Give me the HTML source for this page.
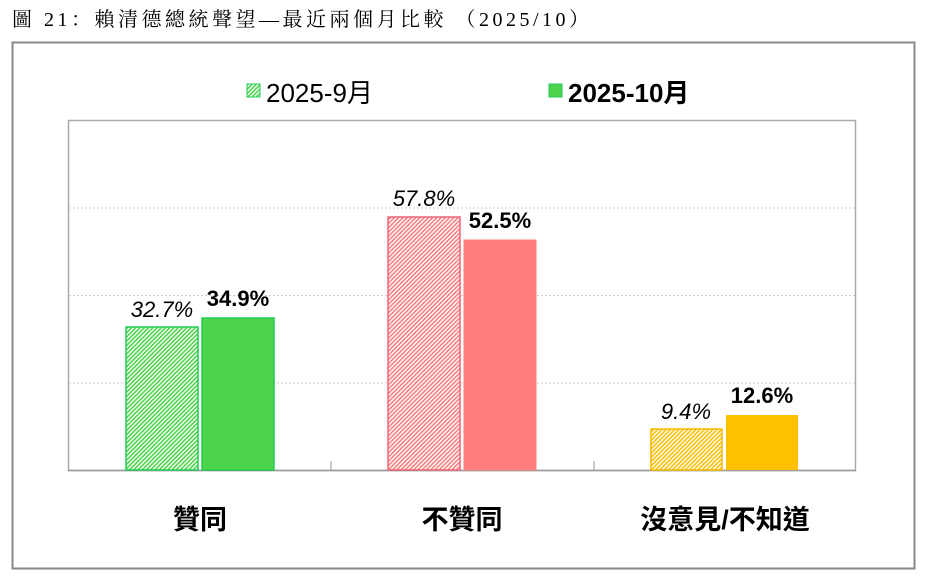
<!DOCTYPE html>
<html><head><meta charset="utf-8"><style>
body{margin:0;background:#fff;width:928px;height:580px;overflow:hidden}
svg{display:block}
</style></head><body>
<svg width="928" height="580" xmlns="http://www.w3.org/2000/svg">
<defs>
<pattern id="pg" width="3" height="3" patternUnits="userSpaceOnUse" patternTransform="rotate(45)"><rect width="3" height="3" fill="#fff"/><rect width="1.6" height="3" fill="#4cd44c"/></pattern>
<pattern id="pr" width="3" height="3" patternUnits="userSpaceOnUse" patternTransform="rotate(45)"><rect width="3" height="3" fill="#fff"/><rect width="1.6" height="3" fill="#ff7f7f"/></pattern>
<pattern id="py" width="3" height="3" patternUnits="userSpaceOnUse" patternTransform="rotate(45)"><rect width="3" height="3" fill="#fff"/><rect width="1.6" height="3" fill="#ffc000"/></pattern>
</defs>
<text x="12" y="26" font-family="Liberation Serif, Noto Serif CJK SC, serif" font-size="20" letter-spacing="3.5" fill="#000">圖 21：賴清德總統聲望—最近兩個月比較 （2025/10）</text>
<rect x="12.5" y="42.5" width="902" height="526" fill="none" stroke="#888" stroke-width="2"/>
<rect x="68.5" y="120.5" width="787" height="350" fill="none" stroke="#aaa" stroke-width="1.5"/>
<g stroke="#ccc" stroke-dasharray="2,2"><line x1="69" y1="208" x2="855" y2="208"/><line x1="69" y1="295.5" x2="855" y2="295.5"/><line x1="69" y1="383" x2="855" y2="383"/></g>
<line x1="68" y1="470.5" x2="856" y2="470.5" stroke="#999" stroke-width="1.5"/>
<g stroke="#999"><line x1="331" y1="461" x2="331" y2="470"/><line x1="594" y1="461" x2="594" y2="470"/></g>
<rect x="126" y="327" width="72" height="143" fill="url(#pg)" stroke="#22cc55" stroke-width="1.5"/>
<rect x="202" y="318" width="72" height="152" fill="#4cd44c" stroke="#22cc55" stroke-width="1.5"/>
<rect x="388" y="217" width="72" height="253" fill="url(#pr)" stroke="#ee6677" stroke-width="1.5"/>
<rect x="464" y="240" width="72" height="230" fill="#ff7f7f" stroke="#ff7f7f" stroke-width="1"/>
<rect x="651" y="429" width="71" height="41" fill="url(#py)" stroke="#f5b800" stroke-width="1.5"/>
<rect x="726" y="415" width="72" height="55" fill="#ffc000"/>
<g font-family="Liberation Sans, sans-serif" font-size="22" text-anchor="middle">
<text x="162" y="317" font-style="italic">32.7%</text>
<text x="238" y="306" font-weight="bold">34.9%</text>
<text x="424" y="206" font-style="italic">57.8%</text>
<text x="500" y="228" font-weight="bold">52.5%</text>
<text x="686" y="419" font-style="italic">9.4%</text>
<text x="762" y="403" font-weight="bold">12.6%</text>
</g>
<g font-family="Liberation Sans, Noto Sans CJK TC, sans-serif" font-size="27" font-weight="bold" text-anchor="middle">
<text x="200" y="529">贊同</text>
<text x="462" y="529">不贊同</text>
<text x="725" y="529">沒意見/不知道</text>
</g>
<rect x="247" y="84" width="13" height="13" fill="url(#pg)" stroke="#22cc55"/>
<text x="266" y="102" font-family="Liberation Sans, Noto Sans CJK TC, sans-serif" font-size="26">2025-9月</text>
<rect x="549" y="84" width="13" height="13" fill="#4cd44c" stroke="#22cc55"/>
<text x="568" y="102" font-family="Liberation Sans, Noto Sans CJK TC, sans-serif" font-size="26" font-weight="bold">2025-10月</text>
</svg>
</body></html>
